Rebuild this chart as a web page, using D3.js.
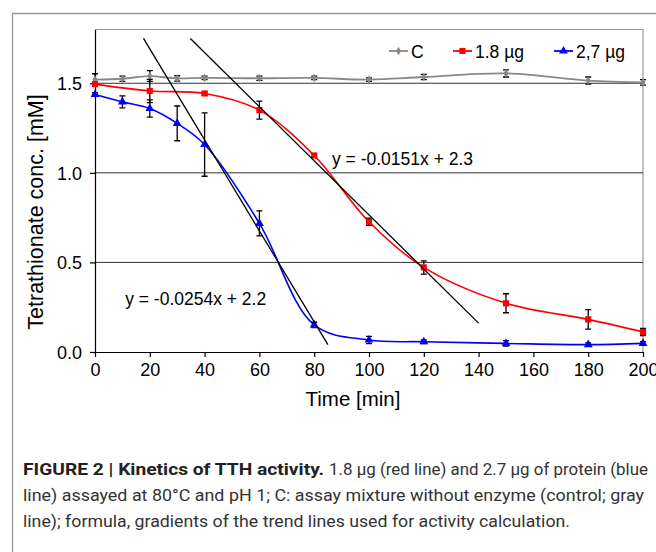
<!DOCTYPE html>
<html>
<head>
<meta charset="utf-8">
<script src="https://cdn.jsdelivr.net/npm/d3@7"></script>
<style>
  body { margin: 0; background: #fff; }
  text { font-family: "Liberation Sans", Arial, sans-serif; fill: #000; }
  .caption { font-family: "Roboto", "Liberation Sans Narrow", sans-serif; fill: #333; }
</style>
</head>
<body>
<script>
// Data
var timesC = [0, 10, 20, 30, 40, 60, 80, 100, 120, 150, 180, 200];
var valuesC = [1.52, 1.525, 1.54, 1.527, 1.53, 1.528, 1.53, 1.52, 1.535, 1.555, 1.515, 1.505];
var errC = [0.033, 0.015, 0.03, 0.015, 0.01, 0.012, 0.01, 0.01, 0.015, 0.02, 0.02, 0.015];

var timesLow = [0, 20, 40, 60, 80, 100, 120, 150, 180, 200];
var valuesLow = [1.495, 1.457, 1.443, 1.35, 1.097, 0.727, 0.472, 0.272, 0.182, 0.112];
var errLow = [0.01, 0.065, 0.01, 0.05, 0.01, 0.02, 0.037, 0.053, 0.054, 0.02];

var timesHigh = [0, 10, 20, 30, 40, 60, 80, 100, 120, 150, 180, 200];
var valuesHigh = [1.437, 1.396, 1.359, 1.276, 1.158, 0.718, 0.151, 0.067, 0.057, 0.048, 0.041, 0.048];
var errHigh = [0.01, 0.033, 0.048, 0.097, 0.177, 0.07, 0.015, 0.02, 0.01, 0.015, 0.01, 0.01];

// trend lines (blue, red)
var trendSlopes = [-0.0254, -0.0151];
var trendIntercepts = [2.2, 2.275];
var trendFrom = [17.7, 34.8];
var trendTo = [85, 140];
var trendLabels = ["y = -0.0254x + 2.2", "y = -0.0151x + 2.3"];

var seriesNames = ["C", "1.8 µg", "2,7 µg"];
var seriesColors = ["#888888", "#ff0000", "#0000ff"];
var xTicks = [0, 20, 40, 60, 80, 100, 120, 140, 160, 180, 200];
var yTicks = [0, 0.5, 1.0, 1.5];

var width = 656, height = 552;

var svg = d3.select("body").append("svg")
    .attr("width", width)
    .attr("height", height);

// outer frame (runs off the right edge)
svg.append("path")
    .attr("d", "M12.5,552 V13.5 H656")
    .attr("fill", "none")
    .attr("stroke", "#999")
    .attr("stroke-width", 1.3);

var x = d3.scaleLinear().domain([0, 200]).range([95, 643]);
var y = d3.scaleLinear().domain([0, 1.8]).range([352, 29.5]);

// plot border top/right
svg.append("path")
    .attr("d", "M" + x(0) + "," + y(1.8) + " H" + x(200) + " V" + y(0))
    .attr("fill", "none")
    .attr("stroke", "#999")
    .attr("stroke-width", 1.2);

// gridlines
svg.selectAll(".grid")
    .data(yTicks.filter(function(d) { return d > 0; }))
    .enter().append("line")
    .attr("x1", x(0)).attr("x2", x(200))
    .attr("y1", function(d) { return y(d); })
    .attr("y2", function(d) { return y(d); })
    .attr("stroke", "#333")
    .attr("stroke-width", 1);

// axes
var xAxis = svg.append("g")
    .attr("transform", "translate(0," + y(0) + ")")
    .call(d3.axisBottom(x).tickValues(xTicks).tickSize(5).tickPadding(6).tickSizeOuter(0));
var yAxis = svg.append("g")
    .attr("transform", "translate(" + x(0) + ",0)")
    .call(d3.axisLeft(y).tickValues(yTicks).tickSize(5).tickPadding(8).tickSizeOuter(0)
      .tickFormat(d3.format(".1f")));

[xAxis, yAxis].forEach(function(a) {
  a.select(".domain").attr("stroke", "#000").attr("stroke-width", 1.2);
  a.selectAll(".tick line").attr("stroke", "#000").attr("stroke-width", 1.2);
  a.selectAll(".tick text").attr("fill", "#000")
    .style("font-family", "'Liberation Sans', Arial, sans-serif")
    .style("font-size", "18px");
});
xAxis.selectAll(".tick text").attr("dy", "0.71em");
yAxis.selectAll(".tick text").attr("dy", "0.36em");

// axis titles
svg.append("text")
    .attr("x", 353).attr("y", 406)
    .attr("text-anchor", "middle")
    .style("font-size", "20.5px")
    .text("Time [min]");
svg.append("text")
    .attr("transform", "translate(43,212) rotate(-90)")
    .attr("text-anchor", "middle")
    .style("font-size", "21.5px")
    .text("Tetrathionate conc. [mM]");

// series
var series = [
  {t: timesC, v: valuesC, e: errC},
  {t: timesLow, v: valuesLow, e: errLow},
  {t: timesHigh, v: valuesHigh, e: errHigh}
];

var line = d3.line()
    .x(function(d) { return x(d[0]); })
    .y(function(d) { return y(d[1]); })
    .curve(d3.curveCatmullRom.alpha(0.5));

var symbols = [
  d3.symbol().type(d3.symbolDiamond).size(22),
  d3.symbol().type(d3.symbolSquare).size(38),
  d3.symbol().type(d3.symbolTriangle).size(34)
];

series.forEach(function(s, i) {
  var pts = s.t.map(function(t, j) { return [t, s.v[j], s.e[j]]; });
  svg.append("path")
      .attr("d", line(pts))
      .attr("fill", "none")
      .attr("stroke", seriesColors[i])
      .attr("stroke-width", i === 0 ? 1.8 : 1.6);

  var g = svg.append("g");
  g.selectAll("path.err")
      .data(pts).enter().append("path")
      .attr("d", function(d) {
        var px = x(d[0]), y1 = y(d[1] + d[2]), y2 = y(d[1] - d[2]);
        return "M" + px + "," + y1 + " V" + y2 +
               " M" + (px - 3) + "," + y1 + " H" + (px + 3) +
               " M" + (px - 3) + "," + y2 + " H" + (px + 3);
      })
      .attr("stroke", "#000")
      .attr("stroke-width", 1.3)
      .attr("fill", "none");

  g.selectAll("path.mk")
      .data(pts).enter().append("path")
      .attr("d", symbols[i])
      .attr("transform", function(d) { return "translate(" + x(d[0]) + "," + y(d[1]) + ")"; })
      .attr("fill", seriesColors[i]);
});

// trend lines
trendSlopes.forEach(function(m, i) {
  var b = trendIntercepts[i];
  svg.append("line")
      .attr("x1", x(trendFrom[i])).attr("y1", y(m * trendFrom[i] + b))
      .attr("x2", x(trendTo[i])).attr("y2", y(m * trendTo[i] + b))
      .attr("stroke", "#000")
      .attr("stroke-width", 1.3);
});
svg.append("text")
    .attr("x", x(11)).attr("y", y(0.26))
    .style("font-size", "17.5px")
    .text(trendLabels[0]);
svg.append("text")
    .attr("x", x(86.5)).attr("y", y(1.043))
    .style("font-size", "17.5px")
    .text(trendLabels[1]);

// legend
var legendX = [389, 453, 554];
var legend = svg.selectAll(".legend")
    .data(seriesNames).enter().append("g")
    .attr("transform", function(d, i) { return "translate(" + legendX[i] + ",51)"; });
legend.append("line")
    .attr("x1", 0).attr("x2", 19)
    .attr("stroke", function(d, i) { return seriesColors[i]; })
    .attr("stroke-width", 1.8);
legend.append("path")
    .attr("d", function(d, i) { return symbols[i](); })
    .attr("transform", "translate(9.5,0)")
    .attr("fill", function(d, i) { return seriesColors[i]; });
legend.append("text")
    .attr("x", 22).attr("y", 6.5)
    .style("font-size", "17.5px")
    .text(function(d) { return d; });

// caption
svg.append("text")
    .attr("class", "caption")
    .attr("x", 23).attr("y", 475)
    .attr("textLength", 301).attr("lengthAdjust", "spacingAndGlyphs")
    .style("font-size", "16.5px").style("font-weight", "bold").style("fill", "#222")
    .text("FIGURE 2 | Kinetics of TTH activity.");
svg.append("text")
    .attr("class", "caption")
    .attr("x", 329).attr("y", 475)
    .attr("textLength", 319).attr("lengthAdjust", "spacingAndGlyphs")
    .style("font-size", "16.5px")
    .text("1.8 µg (red line) and 2.7 µg of protein (blue");
svg.append("text")
    .attr("class", "caption")
    .attr("x", 23).attr("y", 501)
    .attr("textLength", 621).attr("lengthAdjust", "spacingAndGlyphs")
    .style("font-size", "16.5px")
    .text("line) assayed at 80°C and pH 1; C: assay mixture without enzyme (control; gray");
svg.append("text")
    .attr("class", "caption")
    .attr("x", 23).attr("y", 527)
    .attr("textLength", 547).attr("lengthAdjust", "spacingAndGlyphs")
    .style("font-size", "16.5px")
    .text("line); formula, gradients of the trend lines used for activity calculation.");
</script>
</body>
</html>
